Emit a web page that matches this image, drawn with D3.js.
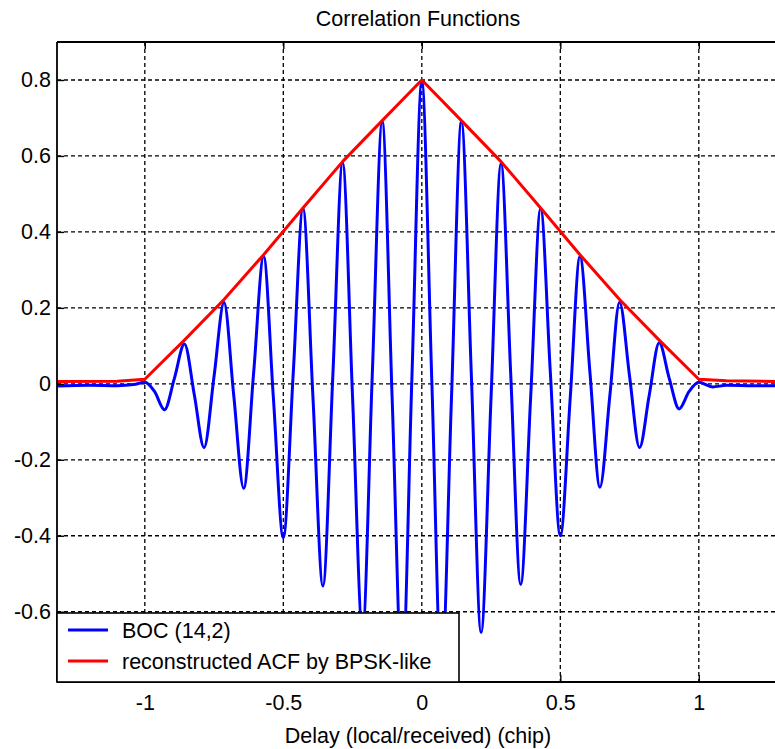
<!DOCTYPE html>
<html>
<head>
<meta charset="utf-8">
<script src="https://cdn.jsdelivr.net/npm/d3@7"></script>
<style>
  html, body { margin: 0; padding: 0; background: #fff; }
  svg text { font-family: "Liberation Sans", Arial, sans-serif; fill: #000; }
</style>
</head>
<body>
<svg id="chart" width="775" height="749"></svg>
<script>
// ---------------- data ----------------
const title = "Correlation Functions";
const xLabel = "Delay (local/received) (chip)";
const xTicks = [-1, -0.5, 0, 0.5, 1];
const xTickLabels = ["-1", "-0.5", "0", "0.5", "1"];
const yTicks = [-0.6, -0.4, -0.2, 0, 0.2, 0.4, 0.6, 0.8];
const yTickLabels = ["-0.6", "-0.4", "-0.2", "0", "0.2", "0.4", "0.6", "0.8"];
const seriesNames = ["BOC (14,2)", "reconstructed ACF by BPSK-like"];

// BOC(14,2) ACF: delay (chip) and value
const bocDelay = [
  -1.317, -1.2, -1.1, -1.04, -1.0, -0.965, -0.929, -0.893, -0.857, -0.821,
  -0.786, -0.75, -0.714, -0.679, -0.643, -0.607, -0.571, -0.536, -0.5, -0.464,
  -0.429, -0.393, -0.357, -0.321, -0.286, -0.25, -0.214, -0.179, -0.143, -0.107,
  -0.071, -0.036, 0,
  0.036, 0.071, 0.107, 0.143, 0.179, 0.214, 0.25, 0.286, 0.321, 0.357,
  0.393, 0.429, 0.464, 0.5, 0.536, 0.571, 0.607, 0.643, 0.679, 0.714,
  0.75, 0.786, 0.821, 0.857, 0.893, 0.929, 0.965, 1.0, 1.05, 1.1, 1.2, 1.317
];
const bocValue = [
  -0.006, -0.004, -0.005, -0.002, 0.004, -0.02, -0.068, 0.015, 0.105, -0.03,
  -0.168, 0.02, 0.214, -0.03, -0.275, 0.03, 0.335, -0.035, -0.405, 0.03,
  0.462, -0.035, -0.532, 0.025, 0.583, -0.035, -0.652, 0.02, 0.69, -0.04,
  -0.77, 0.01, 0.795,
  0.01, -0.77, -0.04, 0.69, 0.02, -0.655, -0.035, 0.58, 0.025, -0.528,
  -0.035, 0.462, 0.03, -0.4, -0.035, 0.335, 0.03, -0.272, -0.03, 0.215,
  0.02, -0.168, -0.03, 0.108, 0.015, -0.066, -0.02, 0.004, -0.008, -0.004, -0.005, -0.005
];

// reconstructed ACF by BPSK-like
const bpskDelay = [-1.317, -1.1, -1.0, -0.857, -0.714, -0.571, -0.429, -0.286, -0.143, 0,
                   0.143, 0.286, 0.429, 0.571, 0.714, 0.857, 1.0, 1.1, 1.317];
const bpskValue = [0.006, 0.007, 0.012, 0.115, 0.222, 0.34, 0.463, 0.585, 0.693, 0.8,
                   0.693, 0.585, 0.463, 0.34, 0.222, 0.115, 0.012, 0.008, 0.006];

// ---------------- layout ----------------
const svg = d3.select("#chart");
const pLeft = 57, pTop = 42, pBottom = 682;
const fs = 21.5;
const x = d3.scaleLinear().domain([-1.317, 1.317]).range([pLeft, pLeft + 2.634 * 277]);
const y = d3.scaleLinear().domain([-0.785, 0.9]).range([pBottom, pTop]);
const pRight = x.range()[1];

svg.append("defs").append("clipPath").attr("id", "plotclip")
  .append("rect").attr("x", pLeft).attr("y", pTop).attr("width", pRight - pLeft).attr("height", pBottom - pTop);

// grid
const grid = svg.append("g");
grid.selectAll(".gx").data(xTicks).enter().append("line")
  .attr("x1", d => x(d)).attr("x2", d => x(d)).attr("y1", pTop).attr("y2", pBottom)
  .attr("stroke", "#000").attr("stroke-width", 1.3).attr("stroke-dasharray", "4,3");
grid.selectAll(".gy").data(yTicks).enter().append("line")
  .attr("x1", pLeft).attr("x2", pRight).attr("y1", d => y(d)).attr("y2", d => y(d))
  .attr("stroke", "#000").attr("stroke-width", 1.3).attr("stroke-dasharray", "4,3");

// axes (inward ticks, matlab style)
const xAxisB = d3.axisBottom(x).tickValues(xTicks).tickSize(-7).tickFormat((d, i) => xTickLabels[i]).tickPadding(13);
const xAxisT = d3.axisTop(x).tickValues(xTicks).tickSize(-7).tickFormat("");
const yAxisL = d3.axisLeft(y).tickValues(yTicks).tickSize(-7).tickFormat((d, i) => yTickLabels[i]).tickPadding(6);

// lines
const plot = svg.append("g").attr("clip-path", "url(#plotclip)");
const bocPts = bocDelay.map((d, i) => [d, bocValue[i]]);
const bpskPts = bpskDelay.map((d, i) => [d, bpskValue[i]]);
plot.append("path").datum(bocPts)
  .attr("d", d3.line().x(d => x(d[0])).y(d => y(d[1])).curve(d3.curveMonotoneX))
  .attr("fill", "none").attr("stroke", "#0000ff").attr("stroke-width", 3).attr("stroke-linejoin", "round");
plot.append("path").datum(bpskPts)
  .attr("d", d3.line().x(d => x(d[0])).y(d => y(d[1])))
  .attr("fill", "none").attr("stroke", "#ff0000").attr("stroke-width", 3).attr("stroke-linejoin", "round");

function styleAxis(g) {
  g.select(".domain").remove();
  g.selectAll(".tick line").attr("stroke", "#000").attr("stroke-width", 1.4);
  g.selectAll(".tick text").attr("font-size", fs).attr("fill", "#000")
    .style("font-family", "'Liberation Sans', Arial, sans-serif");
}
svg.append("g").attr("transform", `translate(0,${pBottom})`).call(xAxisB).call(styleAxis);
svg.append("g").attr("transform", `translate(0,${pTop})`).call(xAxisT).call(styleAxis);
svg.append("g").attr("transform", `translate(${pLeft},0)`).call(yAxisL).call(styleAxis);

// frame
svg.append("line").attr("x1", pLeft).attr("x2", pRight).attr("y1", pTop).attr("y2", pTop).attr("stroke", "#000").attr("stroke-width", 1.8);
svg.append("line").attr("x1", pLeft).attr("x2", pRight).attr("y1", pBottom).attr("y2", pBottom).attr("stroke", "#000").attr("stroke-width", 1.8);
svg.append("line").attr("x1", pLeft).attr("x2", pLeft).attr("y1", pTop).attr("y2", pBottom).attr("stroke", "#000").attr("stroke-width", 1.8);

// legend
const lg = svg.append("g");
lg.append("rect").attr("x", pLeft).attr("y", 613).attr("width", 402).attr("height", pBottom - 613)
  .attr("fill", "#fff").attr("stroke", "#000").attr("stroke-width", 1.6);
const legColors = ["#0000ff", "#ff0000"];
seriesNames.forEach((name, i) => {
  const yy = 630 + i * 31;
  lg.append("line").attr("x1", 68).attr("x2", 108).attr("y1", yy).attr("y2", yy)
    .attr("stroke", legColors[i]).attr("stroke-width", 3);
  lg.append("text").attr("x", 122).attr("y", yy).attr("dy", "0.36em")
    .attr("font-size", fs).text(name);
});

// title and x label
svg.append("text").attr("x", 418).attr("y", 26).attr("text-anchor", "middle")
  .attr("font-size", fs).text(title);
svg.append("text").attr("x", 418).attr("y", 743).attr("text-anchor", "middle")
  .attr("font-size", fs).text(xLabel);
</script>
</body>
</html>
